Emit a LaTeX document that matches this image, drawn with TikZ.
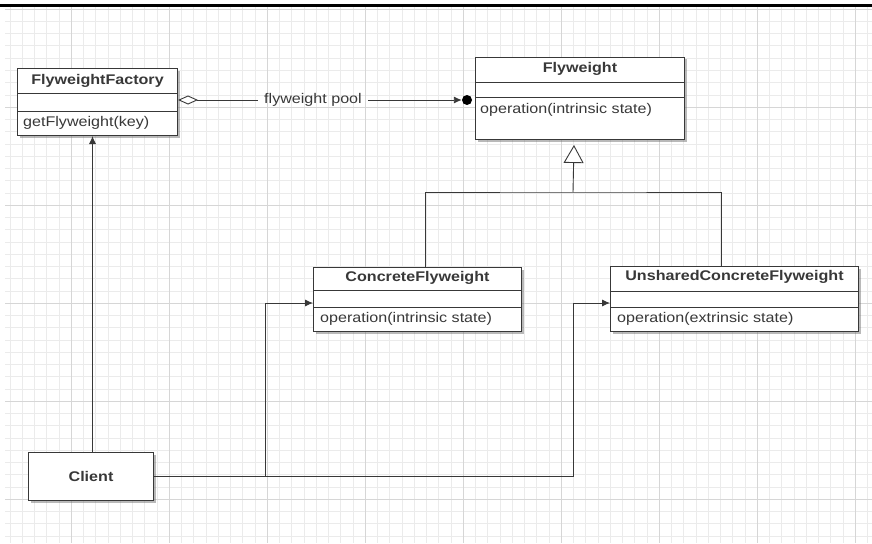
\documentclass[tikz,border=0pt]{standalone}
\usepackage{fontspec}
\setmainfont{Liberation Sans}[FakeStretch=1.15]
\usetikzlibrary{arrows.meta, shadows, calc, positioning}
\definecolor{umlgray}{rgb}{0.22, 0.22, 0.22}
\definecolor{gridminor}{rgb}{0.92, 0.92, 0.92}
\definecolor{gridmajor}{rgb}{0.84, 0.84, 0.84}
\newcommand{\umlfont}{\fontsize{14}{16}\selectfont}
\tikzstyle{classbox} = [rectangle, anchor=north west, draw=umlgray, line width=1pt, fill=white, drop shadow={shadow xshift=2pt, shadow yshift=-2pt, fill=black!55}]
\tikzstyle{classname} = [font=\umlfont\bfseries, text=umlgray]
\tikzstyle{opname} = [anchor=west, inner sep=0pt, text=umlgray]
\tikzstyle{sep} = [draw=umlgray, line width=0.9pt]
\tikzstyle{arrow} = [draw=umlgray, line width=0.9pt, -{Latex[length=8pt, width=7pt]}]
\tikzstyle{line} = [draw=umlgray, line width=0.9pt]

\begin{document}
\begin{tikzpicture}[x=1pt, y=-1pt, font=\umlfont]
\useasboundingbox (0,0) rectangle (872,543);

% background grid
\begin{scope}
\clip (5,8) rectangle (872,543);
\foreach \i in {0,...,73} {\draw[gridminor, line width=0.5pt] (-27+12.25*\i,0) -- (-27+12.25*\i,543);}
\foreach \i in {0,...,44} {\draw[gridminor, line width=0.5pt] (0,9+12.25*\i) -- (872,9+12.25*\i);}
\foreach \i in {0,...,9} {\draw[gridmajor, line width=0.6pt] (-27+98*\i,0) -- (-27+98*\i,543);}
\foreach \i in {0,...,5} {\draw[gridmajor, line width=0.6pt] (0,9+98*\i) -- (872,9+98*\i);}
\end{scope}
\draw[black, line width=2.4pt] (0,5.5) -- (872,5.5);

% Factory
\node (factory) [classbox, minimum width=160pt, minimum height=67pt] at (17,68) {};
\node (factoryname) [classname] at ([yshift=-12.5pt]factory.north) {FlyweightFactory};
\draw[sep] ([yshift=-25pt]factory.north west) -- ([yshift=-25pt]factory.north east);
\draw[sep] ([yshift=-43pt]factory.north west) -- ([yshift=-43pt]factory.north east);
\node (factoryop) [opname] at ([xshift=6pt, yshift=-55pt]factory.north west) {getFlyweight(key)};

% Flyweight
\node (flyweight) [classbox, minimum width=209pt, minimum height=82pt] at (475,57) {};
\node (flyweightname) [classname] at ([yshift=-11.5pt]flyweight.north) {Flyweight};
\draw[sep] ([yshift=-25pt]flyweight.north west) -- ([yshift=-25pt]flyweight.north east);
\draw[sep] ([yshift=-40pt]flyweight.north west) -- ([yshift=-40pt]flyweight.north east);
\node (flyweightop) [opname] at ([xshift=5pt, yshift=-53pt]flyweight.north west) {operation(intrinsic state)};

% Concrete
\node (concrete) [classbox, minimum width=208pt, minimum height=64pt] at (313,267) {};
\node (concretename) [classname] at ([yshift=-11pt]concrete.north) {ConcreteFlyweight};
\draw[sep] ([yshift=-23pt]concrete.north west) -- ([yshift=-23pt]concrete.north east);
\draw[sep] ([yshift=-40pt]concrete.north west) -- ([yshift=-40pt]concrete.north east);
\node (concreteop) [opname] at ([xshift=7pt, yshift=-52pt]concrete.north west) {operation(intrinsic state)};

% Unshared
\node (unshared) [classbox, minimum width=248pt, minimum height=65pt] at (610,266) {};
\node (unsharedname) [classname] at ([yshift=-11pt]unshared.north) {UnsharedConcreteFlyweight};
\draw[sep] ([yshift=-25pt]unshared.north west) -- ([yshift=-25pt]unshared.north east);
\draw[sep] ([yshift=-41pt]unshared.north west) -- ([yshift=-41pt]unshared.north east);
\node (unsharedop) [opname] at ([xshift=7pt, yshift=-53pt]unshared.north west) {operation(extrinsic state)};

% Client
\node (client) [classbox, minimum width=125pt, minimum height=48pt] at (28,452) {};
\node (clientname) [classname] at (client.center) {Client};

% pool
\node (pool) [text=umlgray, inner xsep=6pt] at (313,100) {flyweight pool};
\node (dot) [circle, fill=black, inner sep=0pt, minimum size=10pt] at ([xshift=-8pt, yshift=-43pt]flyweight.north west) {};
\draw[line, {Diamond[fill=white, length=20pt, width=9pt]}-] ([yshift=-32pt]factory.north east) -- (pool.west);
\draw[arrow] (pool.east) -- (dot.west);

% inheritance
\coordinate (bar) at (573,192);
\draw[line] ([xshift=8pt]concrete.north) |- (bar) -| ([xshift=-13pt]unshared.north);
\draw[line, -{Triangle[fill=white, length=18pt, width=20pt]}] (bar) -- ([xshift=-6pt, yshift=-5pt]flyweight.south);

% client links
\coordinate (cin) at ([yshift=-36pt]concrete.north west);
\coordinate (uin) at ([yshift=-37pt]unshared.north west);
\draw[arrow] (client.east) -| ([xshift=-48pt]cin) -- (cin);
\draw[arrow] (client.east) -| ([xshift=-37pt]uin) -- (uin);
\draw[arrow] ([xshift=1.5pt]client.north) -- ([xshift=1.5pt]client.north |- factory.south);

\end{tikzpicture}
\end{document}
